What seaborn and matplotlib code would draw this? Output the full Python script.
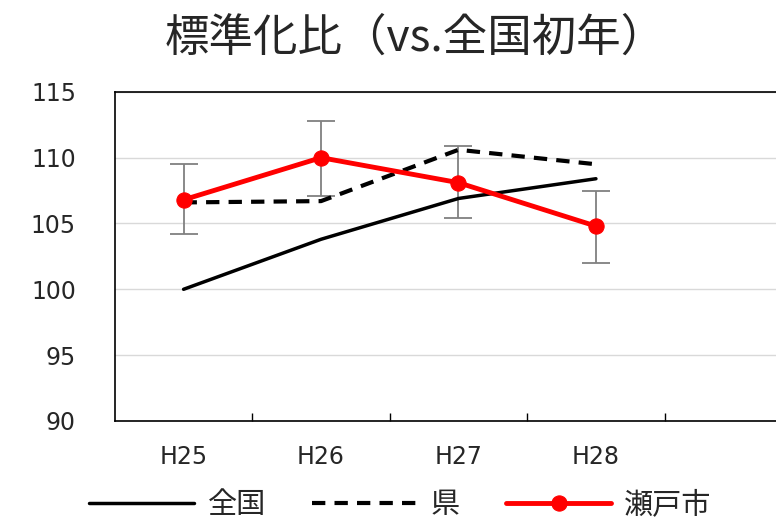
import numpy as np
import pandas as pd
import matplotlib
matplotlib.use("Agg")
import matplotlib.pyplot as plt
import seaborn as sns
from matplotlib.ticker import FixedLocator

# data
years = ["H25", "H26", "H27", "H28"]
zenkoku = [100.0, 103.8, 106.9, 108.4]
ken = [106.6, 106.7, 110.6, 109.5]
seto = [106.8, 110.0, 108.1, 104.8]
seto_upper = [109.5, 112.8, 110.9, 107.5]
seto_lower = [104.2, 107.1, 105.4, 102.0]

sns.set_theme(style="white")
plt.rcParams['font.family'] = ['Noto Sans CJK JP', 'DejaVu Sans']

fig = plt.figure(figsize=(7.76, 5.19), dpi=100)
ax = fig.add_axes([0.148, 0.189, 0.852, 0.634])

df = pd.DataFrame({"year": years, "全国": zenkoku, "県": ken, "瀬戸市": seto})
xpos = np.arange(len(years))

# error bars for the city
yerr = [np.array(seto) - np.array(seto_lower), np.array(seto_upper) - np.array(seto)]
ax.errorbar(xpos, seto, yerr=yerr, fmt="none", ecolor="#808080",
            elinewidth=1.3, capsize=10, capthick=1.3, zorder=2)

sns.lineplot(x=xpos, y=df["全国"], ax=ax, color="black", lw=2.5, label="全国", zorder=3)
sns.lineplot(x=xpos, y=df["県"], ax=ax, color="black", lw=3, label="県", zorder=3)
ax.lines[-1].set_dashes([3.2, 2.2])
sns.lineplot(x=xpos, y=df["瀬戸市"], ax=ax, color="red", lw=3.5, marker="o",
             markersize=11, markeredgecolor="red", label="瀬戸市", zorder=4)

ax.set_xlim(-0.5, 4.31)
ax.set_ylim(90, 115)
ax.set_yticks([90, 95, 100, 105, 110, 115])
ax.yaxis.grid(True, color="#d9d9d9", lw=1)
ax.set_axisbelow(True)
ax.set_xticks(xpos)
ax.set_xticklabels(years)
ax.xaxis.set_minor_locator(FixedLocator([0.5, 1.5, 2.5, 3.5]))
ax.tick_params(axis="x", which="major", length=0, pad=17, labelsize=17, labelcolor="#262626")
ax.tick_params(axis="x", which="minor", direction="in", length=6, width=1, color="black",
               bottom=True)
ax.tick_params(axis="y", length=0, pad=28, labelsize=17, labelcolor="#262626")
for lab in ax.get_xticklabels() + ax.get_yticklabels():
    lab.set_family("DejaVu Sans")
ax.set_xlabel("")
ax.set_ylabel("")

for s in ["left", "bottom", "top"]:
    ax.spines[s].set_visible(True)
    ax.spines[s].set_color("black")
    ax.spines[s].set_linewidth(1.2)
ax.spines["right"].set_visible(False)

fig.text(0.535, 0.928, "標準化比（vs.全国初年）", ha="center", va="center", fontsize=32)

handles, labels = ax.get_legend_handles_labels()
ax.get_legend().remove()
fig.legend(handles, labels, loc="center left", bbox_to_anchor=(0.1, 0.027),
           ncol=3, frameon=False, fontsize=21, handlelength=3.6, handletextpad=0.45,
           columnspacing=1.6, borderaxespad=0)

fig.savefig("out.png", dpi=100)
